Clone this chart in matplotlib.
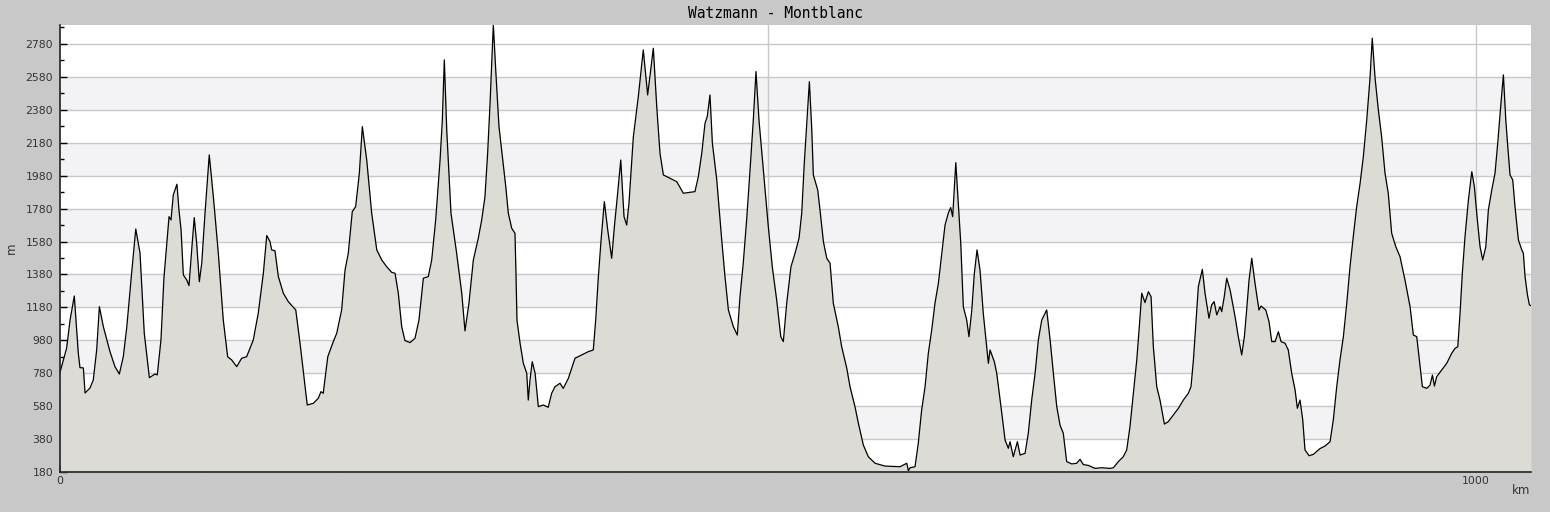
import matplotlib
matplotlib.use('Agg')
import matplotlib.pyplot as plt
from matplotlib.ticker import MultipleLocator, FuncFormatter

# Elevation profile (distance in km, elevation in m)
distance_km = [
    0.0, 4.7, 7.1, 10.1, 12.9, 14.1, 16.5, 17.7, 21.2, 23.5, 25.9, 27.8, 30.6, 35.3, 38.8, 41.9,
    44.7, 47.1, 50.6, 53.5, 56.5, 59.5, 63.1, 67.1, 68.7, 71.3, 73.4, 77.0, 78.4, 80.0, 82.6, 84.0,
    85.5, 87.1, 89.5, 91.1, 93.0, 94.8, 96.5, 98.4, 100.1, 102.4, 105.4, 108.3, 111.8, 115.3, 118.4,
    121.3, 124.8, 128.3, 131.8, 136.5, 140.0, 143.6, 146.0, 148.3, 149.5, 151.8, 154.2, 157.7, 161.2,
    166.5, 169.5, 172.5, 174.6, 178.9, 182.4, 184.3, 185.9, 189.1, 193.0, 195.4, 198.9, 201.3, 203.6,
    206.4, 208.8, 211.4, 213.5, 216.6, 220.1, 223.7, 227.2, 230.7, 234.2, 236.6, 238.9, 241.3, 243.6,
    247.2, 250.7, 253.5, 256.6, 260.1, 262.5, 265.3, 268.4, 270.0, 271.4, 273.1, 276.1, 280.1, 283.7,
    286.0, 288.8, 291.9, 295.4, 297.8, 300.1, 302.0, 303.7, 306.0, 307.7, 310.0, 312.4, 314.8, 316.6,
    319.0, 321.3, 322.0, 322.7, 324.9, 327.2, 329.6, 330.7, 331.9, 333.5, 335.5, 337.8, 341.3, 344.8,
    347.2, 349.6, 353.1, 355.4, 359.0, 363.7, 368.4, 373.1, 376.6, 378.3, 380.2, 382.1, 384.4, 386.8,
    389.6, 391.5, 393.8, 396.0, 398.3, 400.2, 401.8, 404.9, 408.4, 411.9, 415.0, 416.7, 419.0, 421.4,
    423.7, 426.1, 430.8, 435.5, 440.2, 444.9, 448.4, 450.8, 453.2, 455.5, 457.1, 459.0, 460.7, 463.8,
    467.3, 469.6, 472.0, 475.5, 478.3, 480.2, 482.5, 484.9, 487.3, 489.6, 491.5, 493.6, 496.7, 500.2,
    503.0, 506.1, 509.0, 510.8, 513.2, 516.2, 519.1, 521.9, 523.8, 525.6, 527.5, 529.2, 530.9, 532.0,
    535.1, 536.7, 539.1, 541.5, 543.8, 546.1, 549.6, 552.0, 555.6, 557.9, 561.4, 563.8, 567.3, 570.8,
    575.6, 582.6, 593.2, 598.0, 599.1, 600.3, 603.8, 606.1, 608.5, 610.9, 613.2, 615.6, 617.9, 620.3,
    622.7, 625.0, 627.3, 629.0, 630.4, 632.6, 634.4, 636.1, 637.9, 640.3, 641.9, 643.9, 645.7, 647.6,
    649.7, 652.0, 654.4, 655.6, 656.8, 659.8, 661.5, 664.5, 667.4, 669.7, 670.9, 673.2, 676.1, 678.0,
    681.5, 683.8, 686.2, 688.6, 690.9, 693.3, 695.1, 696.8, 699.2, 701.5, 703.9, 706.2, 708.5, 710.9,
    714.5, 718.0, 720.3, 722.7, 726.2, 730.9, 735.7, 741.5, 743.9, 747.4, 750.9, 753.3, 755.6, 758.0,
    760.4, 762.2, 763.9, 766.2, 768.6, 770.5, 772.1, 774.5, 776.8, 779.9, 782.7, 786.2, 789.8, 793.3,
    796.8, 798.7, 800.4, 802.0, 803.9, 806.7, 808.6, 811.4, 813.3, 815.0, 816.9, 819.2, 820.4, 822.2,
    823.9, 826.3, 829.8, 832.1, 834.5, 836.4, 838.0, 839.7, 841.6, 843.9, 846.7, 848.2, 851.5, 853.8,
    855.7, 858.1, 860.4, 862.3, 865.1, 867.4, 869.8, 872.2, 873.8, 875.7, 877.6, 879.2, 882.1, 885.1,
    889.8, 893.4, 896.9, 899.2, 901.6, 903.9, 906.3, 908.7, 911.0, 913.3, 915.7, 918.1, 920.4, 922.8,
    925.1, 926.7, 928.7, 931.0, 933.3, 935.7, 938.0, 940.4, 943.3, 946.3, 949.8, 953.4, 955.7, 958.1,
    959.7, 962.1, 965.2, 967.5, 969.2, 970.6, 972.2, 975.8, 979.3, 982.8, 985.2, 987.1, 988.7, 990.3,
    992.2, 994.6, 997.0, 998.8, 1000.9, 1002.8, 1004.7, 1006.9, 1008.7, 1011.1, 1013.4, 1015.3,
    1017.4, 1019.3, 1021.0, 1022.4, 1024.0, 1025.9, 1027.5, 1029.9, 1032.3, 1033.4, 1034.6, 1036.3,
    1037.7, 1038.8,
]
elevation_m = [
    785, 933, 1103, 1249, 903, 814, 812, 660, 690, 739, 921, 1184, 1063, 911, 820, 775,
    880, 1055, 1389, 1656, 1510, 1024, 753, 775, 770, 982, 1359, 1731, 1711, 1863, 1928, 1772,
    1650, 1377, 1346, 1312, 1529, 1725, 1571, 1336, 1448, 1751, 2106, 1852, 1509, 1103, 880,
    860, 820, 871, 880, 982, 1144, 1387, 1616, 1579, 1529, 1524, 1367, 1266, 1215,
    1164, 962, 739, 587, 597, 628, 668, 658, 880, 972, 1022, 1164, 1407, 1509,
    1761, 1792, 1995, 2278, 2075, 1752, 1529, 1468, 1427, 1393, 1387, 1266, 1063, 978,
    966, 992, 1103, 1357, 1367, 1468, 1711, 2075, 2318, 2683, 2258, 1752, 1509, 1266,
    1037, 1205, 1468, 1600, 1711, 1852, 2116, 2420, 2896, 2622, 2278, 2095, 1913, 1752,
    1660, 1630, 1387, 1103, 962, 840, 780, 617, 739, 850, 780, 577, 587, 573,
    658, 698, 719, 688, 749, 871, 891, 911, 921, 1103, 1367, 1589, 1822, 1650,
    1478, 1670, 1873, 2075, 1731, 1680, 1812, 2217, 2460, 2744, 2470, 2592, 2754, 2400,
    2116, 1984, 1964, 1944, 1873, 1879, 1883, 1974, 2116, 2298, 2339, 2470, 2177, 1954,
    1589, 1367, 1164, 1063, 1012, 1245, 1448, 1711, 2015, 2318, 2612, 2318, 2015, 1670,
    1427, 1225, 1002, 972, 1205, 1427, 1509, 1600, 1752, 2055, 2318, 2551, 2258, 1984,
    1893, 1772, 1579, 1478, 1448, 1205, 1063, 941, 810, 698, 577, 476, 344, 273,
    233, 216, 212, 233, 188, 206, 212, 354, 557, 698, 901, 1043, 1205, 1326,
    1509, 1680, 1752, 1786, 1731, 2059, 1812, 1569, 1184, 1103, 1002, 1164, 1387, 1529,
    1407, 1144, 941, 840, 921, 850, 780, 577, 374, 324, 364, 273, 364, 283,
    293, 415, 617, 780, 982, 1103, 1134, 1164, 982, 780, 577, 465, 415, 243,
    229, 233, 257, 225, 220, 202, 206, 202, 206, 243, 273, 314, 455, 658,
    860, 1063, 1266, 1209, 1275, 1245, 941, 698, 617, 471, 486, 526, 567, 617,
    658, 698, 860, 1063, 1306, 1411, 1266, 1114, 1195, 1215, 1134, 1184, 1154, 1245,
    1357, 1286, 1124, 1002, 891, 1002, 1164, 1346, 1478, 1326, 1164, 1188, 1164, 1093,
    972, 972, 1032, 972, 962, 921, 780, 678, 567, 617, 496, 314, 279, 287,
    322, 338, 364, 496, 698, 860, 1002, 1205, 1427, 1610, 1792, 1933, 2095, 2318,
    2571, 2815, 2571, 2379, 2217, 1995, 1873, 1630, 1549, 1488, 1346, 1184, 1012, 1002,
    880, 698, 688, 708, 769, 702, 759, 800, 840, 901, 931, 941, 1144, 1387,
    1610, 1832, 2004, 1913, 1711, 1549, 1468, 1549, 1772, 1893, 1995, 2177,
    2400, 2592, 2318, 2156, 1984, 1954, 1792, 1589, 1529, 1509, 1367, 1255,
    1195, 1190,
]

y_min, y_max = 180, 2895
x_max = 1038.8
band_edges = list(range(180, 2781, 200))

fig = plt.figure(figsize=(15.5, 5.12), dpi=100, facecolor='#c8c8c8')
ax = fig.add_axes([60 / 1550, 40 / 512, 1471 / 1550, 447 / 512])
ax.set_facecolor('white')

# alternating horizontal bands (white above the top grid line)
for i in range(len(band_edges) - 1):
    if i % 2 == 1:
        ax.axhspan(band_edges[i], band_edges[i + 1], color='#f3f2f5', lw=0, zorder=0)

for y in band_edges:
    ax.axhline(y, color='#c8c8c8', lw=1, zorder=1)
for x in [500, 1000]:
    ax.axvline(x, color='#c8c8c8', lw=1, zorder=1)

ax.fill_between(distance_km, elevation_m, y_min, color='#dcdbd6', lw=0, zorder=2)
ax.plot(distance_km, elevation_m, color='black', lw=0.9, zorder=3)

ax.set_xlim(0, x_max)
ax.set_ylim(y_min, y_max)

ax.yaxis.set_major_locator(MultipleLocator(200, offset=180))
ax.yaxis.set_minor_locator(MultipleLocator(200, offset=80))
ax.xaxis.set_major_locator(MultipleLocator(500))
ax.xaxis.set_minor_locator(MultipleLocator(100))
ax.xaxis.set_major_formatter(FuncFormatter(lambda v, p: f'{v:.0f}' if v % 1000 == 0 else ''))

ax.tick_params(axis='both', which='both', direction='in', color='black', labelsize=7.8,
               labelcolor='#333333')
ax.tick_params(axis='y', which='major', length=5, width=1, pad=5)
ax.tick_params(axis='y', which='minor', length=3, width=1)
ax.tick_params(axis='x', which='major', length=5, width=1, pad=3)
ax.tick_params(axis='x', which='minor', length=3, width=1)

for side in ['top', 'right']:
    ax.spines[side].set_visible(False)
for side in ['left', 'bottom']:
    ax.spines[side].set_color('#222222')
    ax.spines[side].set_linewidth(1.2)
    ax.spines[side].set_zorder(5)

fig.text(0.5, 1 - 14 / 512, 'Watzmann - Montblanc', ha='center', va='center',
         family='DejaVu Sans Mono', fontsize=10.5, color='black')
fig.text(11 / 1550, 1 - 248 / 512, 'm', rotation=90, ha='center', va='center',
         fontsize=8.5, color='#333333')
fig.text(1530 / 1550, 1 - 491 / 512, 'km', ha='right', va='center',
         fontsize=8.5, color='#333333')

fig.savefig('out.png', dpi=100, facecolor=fig.get_facecolor())
